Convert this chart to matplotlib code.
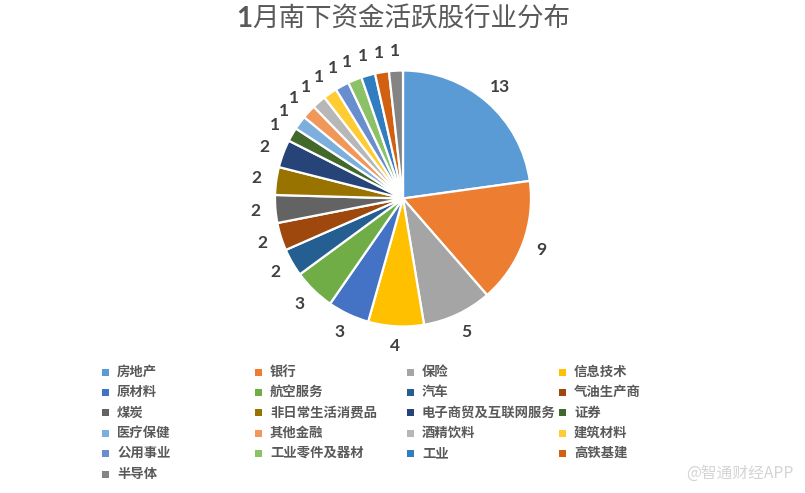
import math
import matplotlib
matplotlib.use("Agg")
import matplotlib.pyplot as plt
from matplotlib.patches import Rectangle

W, H = 805, 493
categories = ["房地产", "银行", "保险", "信息技术", "原材料", "航空服务", "汽车", "气油生产商",
              "煤炭", "非日常生活消费品", "电子商贸及互联网服务", "证券", "医疗保健", "其他金融",
              "酒精饮料", "建筑材料", "公用事业", "工业零件及器材", "工业", "高铁基建", "半导体"]
values = [13, 9, 5, 4, 3, 3, 2, 2, 2, 2, 2, 1, 1, 1, 1, 1, 1, 1, 1, 1, 1]
colors = ["#5B9BD5", "#ED7D31", "#A5A5A5", "#FFC000", "#4472C4", "#70AD47", "#255E91", "#9E480E",
          "#636363", "#997300", "#264478", "#43682B", "#7CAFDD", "#F1975A", "#B7B7B7", "#FFCD33",
          "#698ED0", "#8CC168", "#327DC2", "#D26012", "#848484"]
title_num = "1"
title_rest = "月南下资金活跃股行业分布"
watermark = "@智通财经APP"

plt.rcParams["font.family"] = ["Noto Sans CJK SC", "DejaVu Sans"]
fig = plt.figure(figsize=(W / 100, H / 100), dpi=100, facecolor="white")

bg = fig.add_axes([0, 0, 1, 1])
bg.set_xlim(0, W)
bg.set_ylim(H, 0)
bg.axis("off")

cx, cy, r = 403, 198.5, 128
ax = fig.add_axes([(cx - r) / W, 1 - (cy + r) / H, 2 * r / W, 2 * r / H])
ax.pie(values, colors=colors, startangle=90, counterclock=False, radius=1,
       wedgeprops=dict(edgecolor="white", linewidth=1.6))
ax.set_xlim(-1, 1)
ax.set_ylim(-1, 1)
ax.set_aspect("equal")

total = sum(values)
cum = 0
for v in values:
    a = math.radians(90 - (cum + v / 2) / total * 360)
    cum += v
    d = 1.155
    ax.text(d * math.cos(a), d * math.sin(a), str(v), ha="center", va="center",
            fontsize=12.5, fontweight="bold", color="#404040", family="Lato", clip_on=False)

bg.text(236, 19, title_num, ha="left", va="center", fontsize=20, color="#595959",
        fontweight="bold", family="Lato")
bg.text(570, 19, title_rest, ha="right", va="center", fontsize=19.1, color="#595959", fontweight="medium")

col_x = [105, 258, 410, 562]
row_y = [372, 392, 412.5, 433, 453, 474]
for i, (c, col) in enumerate(zip(categories, colors)):
    x, y = col_x[i % 4], row_y[i // 4]
    bg.add_patch(Rectangle((x - 3.5, y - 3.5), 7, 7, facecolor=col, edgecolor="none"))
    bg.text(x + 12, y, c, ha="left", va="center", fontsize=9.6, fontweight="bold", color="#595959")

bg.text(740, 473, watermark, ha="center", va="center", fontsize=11.3, color="#d4d4d4")

fig.savefig("out.png", dpi=100, facecolor="white")
